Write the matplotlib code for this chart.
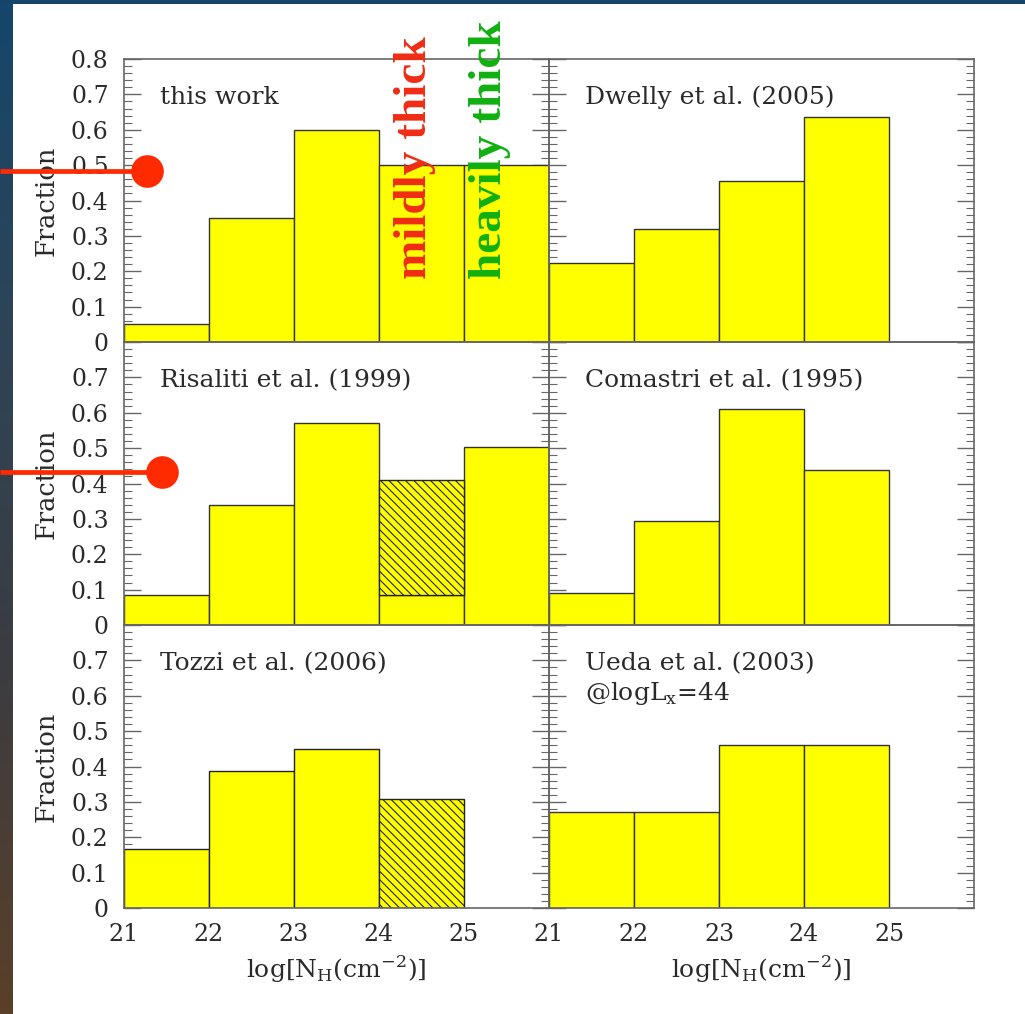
import numpy as np
import matplotlib
matplotlib.use("Agg")
import matplotlib.pyplot as plt
from matplotlib.ticker import MultipleLocator
from matplotlib.colors import LinearSegmentedColormap

FONT = 'DejaVu Serif'
plt.rcParams['mathtext.fontset'] = 'custom'
plt.rcParams['mathtext.rm'] = FONT
plt.rcParams['hatch.linewidth'] = 0.8

# ---------------- data ----------------
bin_left = [21, 22, 23, 24, 25]
this_work = [0.05, 0.35, 0.60, 0.50, 0.50]
dwelly = [0.223, 0.32, 0.455, 0.635]
risaliti = [0.085, 0.34, 0.57, 0.41, 0.503]
risaliti_hatched_bin = 3
risaliti_solid_part = 0.085
comastri = [0.09, 0.294, 0.61, 0.438]
tozzi = [0.167, 0.388, 0.449, 0.308]
tozzi_hatched_bin = 3
ueda = [0.272, 0.272, 0.461, 0.461]

panel_titles = ["this work", "Dwelly et al. (2005)", "Risaliti et al. (1999)",
                "Comastri et al. (1995)", "Tozzi et al. (2006)",
                "Ueda et al. (2003)\n@logL$_{\\rm x}$=44"]
x_ticks = [21, 22, 23, 24, 25]
y_ticks_top = [0, 0.1, 0.2, 0.3, 0.4, 0.5, 0.6, 0.7, 0.8]
y_ticks_low = [0, 0.1, 0.2, 0.3, 0.4, 0.5, 0.6, 0.7]
xlabel = "log[N$_{\\rm H}$(cm$^{-2}$)]"

# annotation markers (pixel coordinates of slide overlay)
dot_x = [147, 162]
dot_y = [171, 472]

W, H = 1025, 1014
fig = plt.figure(figsize=(W / 100, H / 100), dpi=100)
fig.patch.set_facecolor('white')

TXT = '#2a2a2a'
FR = '#666666'
FS = 17

col_left = [124, 549]
col_w = 425
row_top = [59, 342, 625]
row_h = 283

data = [this_work, dwelly, risaliti, comastri, tozzi, ueda]
for i in range(6):
    r, c = divmod(i, 2)
    x0 = col_left[c] / W
    y0 = 1 - (row_top[r] + row_h) / H
    ax = fig.add_axes([x0, y0, col_w / W, row_h / H])
    vals = data[i]
    lefts = bin_left[:len(vals)]
    if i == 2:
        solid = [v if k != risaliti_hatched_bin else risaliti_solid_part for k, v in enumerate(vals)]
        ax.bar(lefts, solid, width=1, align='edge', color='#ffff00',
               edgecolor='#333333', linewidth=1.0, zorder=2)
        k = risaliti_hatched_bin
        ax.bar([lefts[k]], [vals[k] - risaliti_solid_part], bottom=[risaliti_solid_part],
               width=1, align='edge', color='#ffff00', edgecolor='#222222',
               hatch='\\\\\\\\', linewidth=1.0, zorder=2)
    elif i == 4:
        for k, v in enumerate(vals):
            ax.bar([lefts[k]], [v], width=1, align='edge', color='#ffff00',
                   edgecolor='#222222', linewidth=1.0, zorder=2,
                   hatch='\\\\\\\\' if k == tozzi_hatched_bin else None)
    else:
        ax.bar(lefts, vals, width=1, align='edge', color='#ffff00',
               edgecolor='#333333', linewidth=1.0, zorder=2)

    ax.set_xlim(21, 26)
    ax.set_ylim(0, 0.8)
    ax.set_facecolor('none')
    for s in ax.spines.values():
        s.set_color(FR)
        s.set_linewidth(1.2)
        s.set_zorder(3)
    ax.yaxis.set_major_locator(MultipleLocator(0.1))
    ax.yaxis.set_minor_locator(MultipleLocator(0.02))
    ax.tick_params(axis='y', which='major', direction='in', length=12, width=1.0,
                   color=FR, left=True, right=True, labelsize=FS, labelcolor=TXT, pad=11)
    ax.tick_params(axis='y', which='minor', direction='in', length=6, width=0.8,
                   color=FR, left=True, right=True)
    ax.tick_params(axis='x', which='both', length=0, labelsize=FS, labelcolor=TXT, pad=11)
    ax.set_xticks(x_ticks)

    if c == 0:
        ticks = y_ticks_top if r == 0 else y_ticks_low
        ax.set_yticks(ticks)
        ax.set_yticklabels(["0" if t == 0 else f"{t:.1f}" for t in ticks],
                           fontfamily=FONT)
        ax.set_ylabel("Fraction", fontfamily=FONT, fontsize=18.5, color=TXT, labelpad=9)
    else:
        ax.set_yticklabels([])
    if r == 2:
        ax.set_xticklabels([str(t) for t in x_ticks], fontfamily=FONT)
        ax.set_xlabel(xlabel, fontfamily=FONT, fontsize=18, color=TXT, labelpad=5)
    else:
        ax.set_xticklabels([])

    ax.text(0.085, 0.905, panel_titles[i], transform=ax.transAxes, ha='left', va='top',
            fontfamily=FONT, fontsize=18, color=TXT, linespacing=1.25, zorder=4)

# background decorations: left gradient strip and top bar
strip = fig.add_axes([0, 0, 13 / W, 1])
grad = np.linspace(0, 1, 256).reshape(-1, 1)
cm = LinearSegmentedColormap.from_list('s', ['#15466c', '#2e4456', '#3c3c40', '#5a4028'])
strip.imshow(grad, aspect='auto', cmap=cm, extent=[0, 1, 0, 1], origin='upper')
strip.axis('off')
top = fig.add_axes([0, 1 - 4 / H, 1, 4 / H])
top.set_facecolor('#15446a')
top.set_xticks([]); top.set_yticks([])
for s in top.spines.values():
    s.set_visible(False)

# overlay
ov = fig.add_axes([0, 0, 1, 1], facecolor='none')
ov.set_xlim(0, W)
ov.set_ylim(H, 0)
ov.axis('off')
for dx, dy in zip(dot_x, dot_y):
    ov.plot([0, dx], [dy, dy], color='#ff2a00', linewidth=3.4, solid_capstyle='butt')
    ov.plot([dx], [dy], marker='o', markersize=23.5, color='#ff2a00', markeredgewidth=0)

fig.text(415 / W, 1 - 279 / H, "mildly thick", rotation=90, ha='center', va='bottom',
         fontfamily='Liberation Serif', fontweight='bold', fontsize=34, color='#f02c14')
fig.text(490 / W, 1 - 279 / H, "heavily thick", rotation=90, ha='center', va='bottom',
         fontfamily='Liberation Serif', fontweight='bold', fontsize=34, color='#10b010')

fig.savefig("out.png", dpi=100, facecolor='white')
